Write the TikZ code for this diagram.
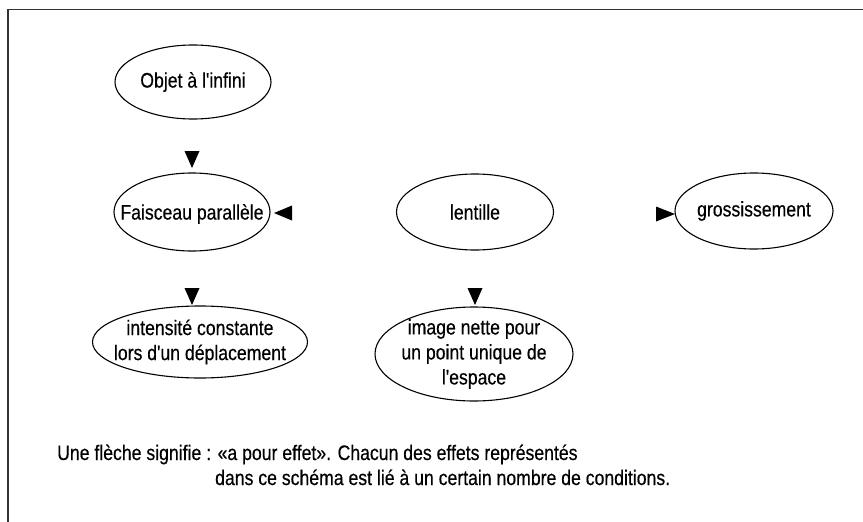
\documentclass[tikz,border=0pt]{standalone}
\usepackage{fontspec}
\newfontfamily\arialn{Liberation Sans}[FakeStretch=0.84,FakeBold=0.4]
\usetikzlibrary{shapes.geometric}
\begin{document}
\begin{tikzpicture}[x=1pt,y=-1pt,
  oval/.style={draw, ellipse, line width=1.1pt, inner sep=0pt},
  lbl/.style={align=center, font=\arialn\fontsize{21}{25}\selectfont, inner sep=0pt},
  tip/.style={fill=black}]
\useasboundingbox (0,0) rectangle (863,522);
\draw[line width=1.5pt, black!80] (863,9.5) -- (8,9.5) -- (8,522);

% ellipses
\node[oval, minimum width=156pt, minimum height=74pt] (objet) at (193,82) {};
\node[lbl] (tobjet) at (objet.center) {Objet à l'infini};

\node[oval, minimum width=156pt, minimum height=78pt] (faisc) at (192,212) {};
\node[lbl] (tfaisc) at ([yshift=-2pt]faisc.center) {Faisceau parallèle};

\node[oval, minimum width=157pt, minimum height=76pt] (lent) at (475,212) {};
\node[lbl] (tlent) at (lent.center) {lentille};

\node[oval, minimum width=158pt, minimum height=76pt] (gross) at (754,211) {};
\node[lbl] (tgross) at (gross.center) {grossissement};

\node[oval, minimum width=215pt, minimum height=72pt] (inten) at (200,342) {};
\node[lbl] (tinten) at (inten.center) {intensité constante\\lors d'un déplacement};

\node[oval, minimum width=198pt, minimum height=94pt] (image) at (474,354) {};
\node[lbl] (timage) at (image.center) {image nette pour\\un point unique de\\l'espace};

% arrowheads (no shafts)
\coordinate (a1) at (192,168);
\fill[tip] (a1) -- ++(-7.5,-17) -- ++(15,0) -- cycle;
\coordinate (a2) at (274,213);
\fill[tip] (a2) -- ++(18,-7.5) -- ++(0,15) -- cycle;
\coordinate (a3) at (675,214);
\fill[tip] (a3) -- ++(-19,-7.5) -- ++(0,15) -- cycle;
\coordinate (a4) at (192,305);
\fill[tip] (a4) -- ++(-7.5,-17) -- ++(15,0) -- cycle;
\coordinate (a5) at (475,305);
\fill[tip] (a5) -- ++(-7.5,-17) -- ++(15,0) -- cycle;

% caption
\node[lbl, anchor=base west] (cap1) at (57,460) {Une flèche signifie : «a pour effet». Chacun des effets représentés};
\node[lbl, anchor=base west] (cap2) at (215,485) {dans ce schéma est lié à un certain nombre de conditions.};
\end{tikzpicture}
\end{document}
